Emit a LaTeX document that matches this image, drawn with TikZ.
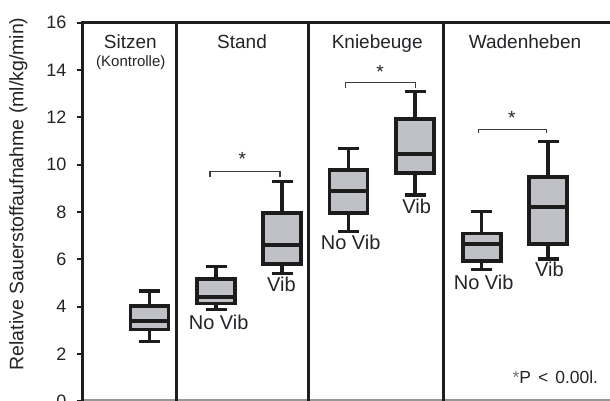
\documentclass[tikz,border=0pt]{standalone}
\usepackage{fontspec}
\setmainfont{Liberation Sans}
\definecolor{framecol}{RGB}{30,30,30}
\definecolor{boxcol}{RGB}{28,28,28}
\definecolor{boxfill}{RGB}{192,193,198}
\definecolor{brackcol}{RGB}{60,60,60}
\definecolor{txtcol}{RGB}{35,35,40}
\definecolor{basecol}{RGB}{150,150,150}
\newcommand\bxplt[6]{%
  \draw[whisk] ({#1},#2) -- ({#1},#3) ({#1},#5) -- ({#1},#6);
  \draw[whisk] ({#1-10.5},#2) -- ({#1+10.5},#2) ({#1-10.5},#6) -- ({#1+10.5},#6);
  \filldraw[boxln] ({#1-19},#3) rectangle ({#1+19},#5);
  \draw[boxln] ({#1-19},#4) -- ({#1+19},#4);
}
\begin{document}
\begin{tikzpicture}[x=1pt,y=1pt,
  frame/.style={line width=3pt, draw=framecol},
  boxln/.style={line width=3.6pt, draw=boxcol, fill=boxfill, line join=miter},
  whisk/.style={line width=3.4pt, draw=boxcol},
  brack/.style={line width=1.3pt, draw=brackcol},
  tick/.style={line width=2pt, draw=framecol},
  lbl/.style={inner sep=0pt, text=txtcol, font=\fontsize{20}{24}\selectfont},
  ttl/.style={inner sep=0pt, text=txtcol, anchor=base, font=\fontsize{19}{23}\selectfont},
  num/.style={inner sep=0pt, text=txtcol, anchor=east, font=\fontsize{18}{22}\selectfont},
  star/.style={inner sep=0pt, text=txtcol, font=\fontsize{19}{23}\selectfont}]
\useasboundingbox (0,0) rectangle (610,401);
% axis title
\node[inner sep=0pt, text=txtcol, rotate=90, anchor=base, font=\fontsize{19.5}{23}\selectfont] (ytitle) at (23.3,207) {Relative Sauerstoffaufnahme (ml/kg/min)};
% bottom gray line
\draw[line width=1.5pt, basecol] (82,0.8) -- (610,0.8);
\begin{scope}[shift={(0,-0.3)}, y=23.66pt]
  % frame
  \draw[frame] (82,-0.5) -- (82,16) -- (615,16);
  \foreach \xx in {176.7,308.3,443} \draw[frame] (\xx,-0.5) -- (\xx,16);
  % ticks and numbers
  \foreach \v in {0,2,...,16} {
    \draw[tick] (76.5,\v) -- (82,\v);
    \node[num] (n\v) at (66.5,\v) {\v};
  }
  % boxplots
  \bxplt{149.5}{2.54}{3.04}{3.39}{4.03}{4.67}
  \bxplt{216}{3.89}{4.14}{4.42}{5.16}{5.69}
  \bxplt{282}{5.41}{5.80}{6.61}{7.97}{9.28}
  \bxplt{348.3}{7.17}{7.95}{8.89}{9.78}{10.69}
  \bxplt{415}{8.72}{9.66}{10.45}{11.92}{13.09}
  \bxplt{481.7}{5.58}{5.93}{6.64}{7.10}{8.01}
  \bxplt{548}{6.01}{6.65}{8.20}{9.49}{10.97}
  % brackets
  \draw[brack] (210,9.46) -- (210,9.70) -- (280,9.70) -- (280,9.46);
  \draw[brack] (345.7,13.23) -- (345.7,13.48) -- (415.7,13.48) -- (415.7,13.23);
  \draw[brack] (478.3,11.33) -- (478.3,11.50) -- (546.7,11.50) -- (546.7,11.33);
  \node[star] (s1) at (242.3,10.24) {*};
  \node[star] (s2) at (380,13.93) {*};
  \node[star] (s3) at (511.7,11.97) {*};
  % labels
  \node[lbl] (l1) at (218.7,3.33) {No Vib};
  \node[lbl] (l2) at (281.5,4.95) {Vib};
  \node[lbl] (l3) at (350.7,6.71) {No Vib};
  \node[lbl] (l4) at (416.7,8.23) {Vib};
  \node[lbl] (l5) at (483.7,5.02) {No Vib};
  \node[lbl] (l6) at (549.5,5.56) {Vib};
\end{scope}
% titles
\node[ttl] (t1) at (130.3,352.3) {Sitzen};
\node[ttl, font=\fontsize{15}{18}\selectfont] (t1b) at (130.8,334) {(Kontrolle)};
\node[ttl] (t2) at (242,352.3) {Stand};
\node[ttl] (t3) at (377.2,352.3) {Kniebeuge};
\node[ttl] (t4) at (525,352.3) {Wadenheben};
% p value
\node[inner sep=0pt, anchor=base east, text=txtcol, font=\fontsize{17.5}{20}\selectfont] (pv) at (598.3,17.7) {{\color{black!55}*}P\hspace{0.4em}<\hspace{0.4em}0.00l.};
\end{tikzpicture}
\end{document}
